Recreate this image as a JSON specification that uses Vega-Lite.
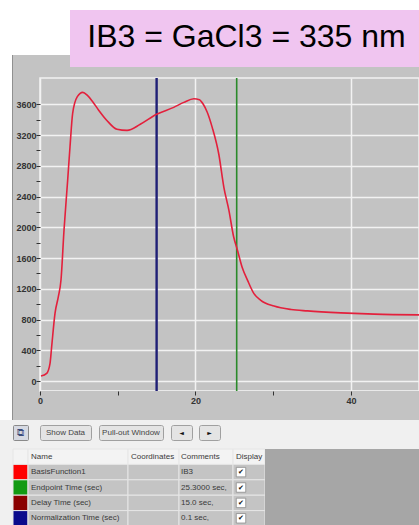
{
  "$schema": "https://vega.github.io/schema/vega-lite/v6.json",
  "background": "#f0f0f0",
  "padding": 0,
  "spacing": 0,
  "config": {"concat": {"spacing": 0}, "view": {"stroke": null}},
  "datasets": {
    "curve": [
      {"t": 0.13, "v": 65}, {"t": 0.86, "v": 100}, {"t": 1.29, "v": 230}, {"t": 1.5, "v": 446},
      {"t": 1.93, "v": 881}, {"t": 2.36, "v": 1097}, {"t": 2.7, "v": 1314}, {"t": 3.09, "v": 1964},
      {"t": 3.56, "v": 2615}, {"t": 3.86, "v": 3048}, {"t": 4.2, "v": 3482}, {"t": 4.8, "v": 3699},
      {"t": 5.5, "v": 3755}, {"t": 6.1, "v": 3715}, {"t": 6.8, "v": 3630}, {"t": 7.5, "v": 3530},
      {"t": 8.6, "v": 3390}, {"t": 9.9, "v": 3275}, {"t": 11.2, "v": 3260}, {"t": 12.9, "v": 3340},
      {"t": 15.0, "v": 3470}, {"t": 17.2, "v": 3560}, {"t": 18.5, "v": 3625}, {"t": 19.8, "v": 3672},
      {"t": 20.5, "v": 3660}, {"t": 21.0, "v": 3600}, {"t": 21.5, "v": 3500}, {"t": 22.15, "v": 3300},
      {"t": 23.0, "v": 2950}, {"t": 23.65, "v": 2520}, {"t": 24.3, "v": 2220}, {"t": 24.9, "v": 1880},
      {"t": 25.4, "v": 1700}, {"t": 26.0, "v": 1480}, {"t": 26.7, "v": 1310}, {"t": 27.5, "v": 1140},
      {"t": 28.4, "v": 1050}, {"t": 30.1, "v": 975}, {"t": 32.3, "v": 930}, {"t": 34.4, "v": 912},
      {"t": 38.7, "v": 887}, {"t": 43.0, "v": 870}, {"t": 48.75, "v": 860}
    ],
    "markers": [
      {"marker": "Delay Time (sec)", "t": 15.0},
      {"marker": "Endpoint Time (sec)", "t": 25.3}
    ],
    "table": [
      {"row": 0, "name": "Name", "coordinates": "Coordinates", "comments": "Comments", "display": "Display"},
      {"row": 1, "name": "BasisFunction1", "coordinates": "", "comments": "IB3", "display": "✔"},
      {"row": 2, "name": "Endpoint Time (sec)", "coordinates": "", "comments": "25.3000 sec,", "display": "✔"},
      {"row": 3, "name": "Delay Time (sec)", "coordinates": "", "comments": "15.0 sec,", "display": "✔"},
      {"row": 4, "name": "Normalization Time (sec)", "coordinates": "", "comments": "0.1 sec,", "display": "✔"}
    ],
    "one": [{"k": 0}]
  },
  "vconcat": [
    {
      "spacing": 0,
      "hconcat": [
        {
          "spacing": 0,
          "vconcat": [
            {"width": 70, "height": 55, "data": {"name": "one"}, "mark": {"type": "point", "opacity": 0}, "view": {"fill": "#ffffff", "stroke": null}},
            {
              "spacing": 0, "bounds": "flush",
              "hconcat": [
                {"width": 12, "height": 12, "data": {"name": "one"}, "mark": {"type": "point", "opacity": 0}, "view": {"fill": "#ffffff", "stroke": null}},
                {"width": 1, "height": 12, "data": {"name": "one"}, "mark": {"type": "point", "opacity": 0}, "view": {"fill": "#909090", "stroke": null}},
                {"width": 57, "height": 12, "data": {"name": "one"}, "mark": {"type": "point", "opacity": 0}, "view": {"fill": "#c3c3c3", "stroke": null}}
              ]
            }
          ]
        },
        {
          "spacing": 0,
          "vconcat": [
            {"width": 349, "height": 10, "data": {"name": "one"}, "mark": {"type": "point", "opacity": 0}, "view": {"fill": "#ffffff", "stroke": null}},
            {
              "width": 349, "height": 57,
              "data": {"values": [{"title": "IB3 = GaCl3 = 335 nm"}]},
              "mark": {"type": "text", "font": "Liberation Sans", "fontSize": 32, "color": "#000000", "baseline": "middle", "dy": -2, "dx": 2},
              "encoding": {"text": {"field": "title", "type": "nominal"}},
              "view": {"fill": "#f0c5f0", "stroke": null}
            }
          ]
        }
      ]
    },
    {
      "spacing": 0, "bounds": "flush",
      "hconcat": [
        {"width": 12, "height": 353, "data": {"name": "one"}, "mark": {"type": "point", "opacity": 0}, "view": {"fill": "#ffffff", "stroke": null}},
        {"width": 1, "height": 353, "data": {"name": "one"}, "mark": {"type": "point", "opacity": 0}, "view": {"fill": "#909090", "stroke": null}},
        {
          "spacing": 0, "bounds": "flush",
          "vconcat": [
            {"width": 406, "height": 11, "data": {"name": "one"}, "mark": {"type": "point", "opacity": 0}, "view": {"fill": "#c3c3c3", "stroke": null}},
            {
              "spacing": 0, "bounds": "flush",
              "hconcat": [
                {"width": 27, "height": 342, "data": {"name": "one"}, "mark": {"type": "point", "opacity": 0}, "view": {"fill": "#c3c3c3", "stroke": null}},
                {
                  "spacing": 0, "bounds": "flush",
                  "vconcat": [
                    {
                      "width": 379, "height": 313,
                      "view": {"fill": "#c3c3c3", "stroke": "#f2f2f2", "strokeWidth": 1.5},
                      "layer": [
                        {
                          "data": {"name": "markers"},
                          "mark": {"type": "rule"},
                          "encoding": {
                            "x": {"field": "t", "type": "quantitative", "scale": {"domain": [0, 48.75], "nice": false, "zero": false}},
                            "color": {"condition": {"test": "datum.marker === 'Endpoint Time (sec)'", "value": "#2a8a2a"}, "value": "#1f1f76"},
                            "strokeWidth": {"condition": {"test": "datum.marker === 'Endpoint Time (sec)'", "value": 1.6}, "value": 2.4}
                          }
                        },
                        {
                          "data": {"name": "curve"},
                          "mark": {"type": "line", "color": "#e3203c", "strokeWidth": 1.6, "interpolate": "monotone"},
                          "encoding": {
                            "x": {
                              "field": "t", "type": "quantitative",
                              "scale": {"domain": [0, 48.75], "nice": false, "zero": false},
                              "axis": {
                                "title": null, "values": [0, 20, 40],
                                "domain": true, "domainColor": "#f2f2f2", "domainWidth": 1.5,
                                "ticks": false, "labels": false,
                                "grid": true, "gridColor": "#f2f2f2", "gridWidth": 1.5
                              }
                            },
                            "y": {
                              "field": "v", "type": "quantitative",
                              "scale": {"domain": [-130, 3942], "nice": false, "zero": false},
                              "axis": {
                                "title": null,
                                "values": [0, 200, 400, 600, 800, 1000, 1200, 1400, 1600, 1800, 2000, 2200, 2400, 2600, 2800, 3000, 3200, 3400, 3600],
                                "format": "d", "domain": false,
                                "ticks": true, "tickColor": "#333333", "tickSize": 4, "tickWidth": 1,
                                "labelExpr": "datum.value % 400 === 0 ? datum.label : ''",
                                "labelFont": "Liberation Sans", "labelFontSize": 9, "labelFontWeight": "bold", "labelColor": "#333333",
                                "labelPadding": 0, "labelFlush": false, "labelOverlap": false,
                                "grid": true, "gridColor": "#f2f2f2", "gridWidth": 1.5,
                                "gridOpacity": {"condition": {"test": "datum.value % 400 === 0", "value": 1}, "value": 0}
                              }
                            }
                          }
                        }
                      ]
                    },
                    {
                      "width": 379, "height": 29,
                      "data": {"name": "curve"},
                      "mark": {"type": "point", "opacity": 0},
                      "encoding": {
                        "x": {
                          "field": "t", "type": "quantitative",
                          "scale": {"domain": [0, 48.75], "nice": false, "zero": false},
                          "axis": {
                            "title": null, "values": [0, 10, 20, 30, 40], "orient": "bottom", "offset": -29,
                            "domain": false, "grid": false,
                            "ticks": true, "tickColor": "#333333", "tickSize": 4, "tickWidth": 1,
                            "labelExpr": "datum.value % 20 === 0 ? datum.label : ''",
                            "labelFont": "Liberation Sans", "labelFontSize": 9, "labelFontWeight": "bold", "labelColor": "#333333",
                            "labelPadding": 1, "labelFlush": false, "labelOverlap": false
                          }
                        }
                      },
                      "view": {"fill": "#c3c3c3", "stroke": null}
                    }
                  ]
                }
              ]
            }
          ]
        }
      ]
    },
    {
      "spacing": 0, "bounds": "flush",
      "vconcat": [
        {"width": 419, "height": 3, "data": {"name": "one"}, "mark": {"type": "point", "opacity": 0}, "view": {"stroke": null}},
        {
          "spacing": 0, "bounds": "flush",
          "hconcat": [
            {"width": 13, "height": 23, "data": {"name": "one"}, "mark": {"type": "point", "opacity": 0}, "view": {"stroke": null}},
            {"width": 15, "height": 15, "data": {"values": [{"icon": "⧉"}]}, "mark": {"type": "text", "font": "DejaVu Sans", "fontSize": 10, "color": "#3a4a7a"}, "encoding": {"text": {"field": "icon", "type": "nominal"}}, "view": {"fill": "#d6d9e2", "stroke": "#8a8a8a", "cornerRadius": 1}},
            {"width": 12, "height": 15, "data": {"name": "one"}, "mark": {"type": "point", "opacity": 0}, "view": {"stroke": null}},
            {"width": 51, "height": 15, "data": {"values": [{"label": "Show Data"}]}, "mark": {"type": "text", "font": "Liberation Sans", "fontSize": 8, "color": "#444444"}, "encoding": {"text": {"field": "label", "type": "nominal"}}, "view": {"fill": "#e4e4e4", "stroke": "#a0a0a0", "cornerRadius": 2}},
            {"width": 8, "height": 15, "data": {"name": "one"}, "mark": {"type": "point", "opacity": 0}, "view": {"stroke": null}},
            {"width": 64, "height": 15, "data": {"values": [{"label": "Pull-out Window"}]}, "mark": {"type": "text", "font": "Liberation Sans", "fontSize": 8, "color": "#444444"}, "encoding": {"text": {"field": "label", "type": "nominal"}}, "view": {"fill": "#e4e4e4", "stroke": "#a0a0a0", "cornerRadius": 2}},
            {"width": 8, "height": 15, "data": {"name": "one"}, "mark": {"type": "point", "opacity": 0}, "view": {"stroke": null}},
            {"width": 21, "height": 15, "data": {"values": [{"label": "◄"}]}, "mark": {"type": "text", "font": "DejaVu Sans", "fontSize": 6, "color": "#111111"}, "encoding": {"text": {"field": "label", "type": "nominal"}}, "view": {"fill": "#e4e4e4", "stroke": "#a0a0a0", "cornerRadius": 2}},
            {"width": 7, "height": 15, "data": {"name": "one"}, "mark": {"type": "point", "opacity": 0}, "view": {"stroke": null}},
            {"width": 21, "height": 15, "data": {"values": [{"label": "►"}]}, "mark": {"type": "text", "font": "DejaVu Sans", "fontSize": 6, "color": "#111111"}, "encoding": {"text": {"field": "label", "type": "nominal"}}, "view": {"fill": "#e4e4e4", "stroke": "#a0a0a0", "cornerRadius": 2}}
          ]
        }
      ]
    },
    {
      "spacing": 0, "bounds": "flush",
      "hconcat": [
        {"width": 13, "height": 77, "data": {"name": "one"}, "mark": {"type": "point", "opacity": 0}, "view": {"stroke": null}},
        {
          "width": 15, "height": 77, "data": {"name": "table"},
          "mark": {"type": "rect", "stroke": "#e6e6e6", "strokeWidth": 1},
          "encoding": {
            "y": {"field": "row", "type": "ordinal", "axis": null, "scale": {"paddingInner": 0, "paddingOuter": 0}},
            "fill": {"condition": [
              {"test": "datum.name === 'BasisFunction1'", "value": "#ff0000"},
              {"test": "datum.name === 'Endpoint Time (sec)'", "value": "#129a12"},
              {"test": "datum.name === 'Delay Time (sec)'", "value": "#8a0000"},
              {"test": "datum.name === 'Normalization Time (sec)'", "value": "#0a0a8c"}
            ], "value": "#f3f3f3"}
          },
          "view": {"stroke": null}
        },
        {
          "width": 100, "height": 77, "data": {"name": "table"},
          "encoding": {"y": {"field": "row", "type": "ordinal", "axis": null, "scale": {"paddingInner": 0, "paddingOuter": 0}}},
          "layer": [
            {"mark": {"type": "rect", "stroke": "#e6e6e6", "strokeWidth": 1}, "encoding": {"fill": {"condition": {"test": "datum.row === 0", "value": "#f3f3f3"}, "value": "#c4c4c4"}}},
            {"mark": {"type": "text", "align": "left", "dx": -47, "font": "Liberation Sans", "fontSize": 8, "color": "#3a3a3a"}, "encoding": {"text": {"field": "name", "type": "nominal"}}}
          ],
          "view": {"stroke": null}
        },
        {
          "width": 51, "height": 77, "data": {"name": "table"},
          "encoding": {"y": {"field": "row", "type": "ordinal", "axis": null, "scale": {"paddingInner": 0, "paddingOuter": 0}}},
          "layer": [
            {"mark": {"type": "rect", "stroke": "#e6e6e6", "strokeWidth": 1}, "encoding": {"fill": {"condition": {"test": "datum.row === 0", "value": "#f3f3f3"}, "value": "#c4c4c4"}}},
            {"mark": {"type": "text", "align": "left", "dx": -22.5, "font": "Liberation Sans", "fontSize": 8, "color": "#3a3a3a"}, "encoding": {"text": {"field": "coordinates", "type": "nominal"}}}
          ],
          "view": {"stroke": null}
        },
        {
          "width": 54, "height": 77, "data": {"name": "table"},
          "encoding": {"y": {"field": "row", "type": "ordinal", "axis": null, "scale": {"paddingInner": 0, "paddingOuter": 0}}},
          "layer": [
            {"mark": {"type": "rect", "stroke": "#e6e6e6", "strokeWidth": 1}, "encoding": {"fill": {"condition": {"test": "datum.row === 0", "value": "#f3f3f3"}, "value": "#c4c4c4"}}},
            {"mark": {"type": "text", "align": "left", "dx": -25, "font": "Liberation Sans", "fontSize": 8, "color": "#3a3a3a"}, "encoding": {"text": {"field": "comments", "type": "nominal"}}}
          ],
          "view": {"stroke": null}
        },
        {
          "width": 32, "height": 77, "data": {"name": "table"},
          "encoding": {"y": {"field": "row", "type": "ordinal", "axis": null, "scale": {"paddingInner": 0, "paddingOuter": 0}}},
          "layer": [
            {"mark": {"type": "rect", "stroke": "#e6e6e6", "strokeWidth": 1}, "encoding": {"fill": {"condition": {"test": "datum.row === 0", "value": "#f3f3f3"}, "value": "#c4c4c4"}}},
            {"transform": [{"filter": "datum.row === 0"}], "mark": {"type": "text", "align": "left", "dx": -13, "font": "Liberation Sans", "fontSize": 8, "color": "#3a3a3a"}, "encoding": {"text": {"field": "display", "type": "nominal"}}},
            {"transform": [{"filter": "datum.row > 0"}], "mark": {"type": "point", "shape": "square", "size": 90, "filled": true, "fill": "#ffffff", "stroke": "#8a8a8a", "strokeWidth": 0.8, "opacity": 1, "xOffset": -8}},
            {"transform": [{"filter": "datum.row > 0"}], "mark": {"type": "text", "dx": -8, "font": "DejaVu Sans", "fontSize": 7, "color": "#111111"}, "encoding": {"text": {"field": "display", "type": "nominal"}}}
          ],
          "view": {"stroke": null}
        },
        {"width": 154, "height": 77, "data": {"name": "one"}, "mark": {"type": "point", "opacity": 0}, "view": {"fill": "#a6a6a6", "stroke": null}}
      ]
    }
  ]
}
